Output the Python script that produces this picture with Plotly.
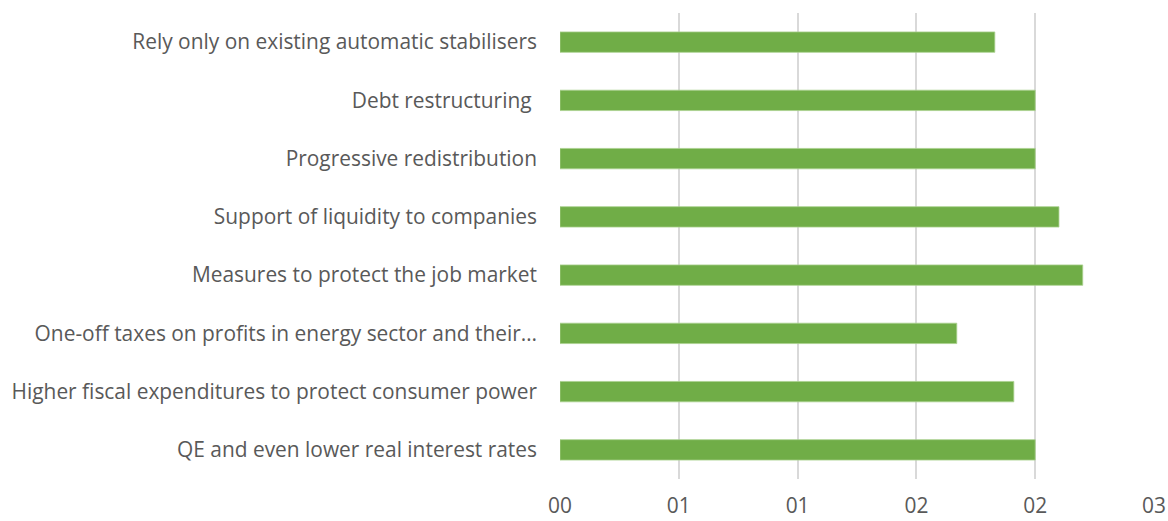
import plotly.graph_objects as go

categories = [
    "Rely only on existing automatic stabilisers",
    "Debt restructuring ",
    "Progressive redistribution",
    "Support of liquidity to companies",
    "Measures to protect the job market",
    "One-off taxes on profits in energy sector and their…",
    "Higher fiscal expenditures to protect consumer power",
    "QE and even lower real interest rates",
]
values = [1.83, 2.0, 2.0, 2.1, 2.2, 1.67, 1.91, 2.0]
tick_values = [0, 0.5, 1.0, 1.5, 2.0, 2.5]
tick_labels = ["00", "01", "01", "02", "02", "03"]

fig = go.Figure(
    go.Bar(
        y=categories,
        x=values,
        orientation="h",
        marker=dict(color="#70AD47", line=dict(color="#A9D08E", width=0.8)),
        width=0.35,
    )
)
fig.update_layout(
    width=1168,
    height=521,
    margin=dict(l=560, r=14, t=13, b=42, autoexpand=False),
    plot_bgcolor="white",
    paper_bgcolor="white",
    showlegend=False,
    font=dict(family="Open Sans", size=20.9, color="#595959"),
    bargap=0.65,
)
fig.update_xaxes(
    range=[0, 2.5],
    tickvals=tick_values,
    ticktext=tick_labels,
    showgrid=True,
    gridcolor="#D9D9D9",
    gridwidth=2,
    zeroline=False,
    showline=False,
    automargin=False,
    ticklabelstandoff=12,
)
fig.update_yaxes(
    autorange="reversed",
    showgrid=False,
    showline=False,
    automargin=False,
    ticklabelstandoff=22,
)
fig.write_html("out.html")
